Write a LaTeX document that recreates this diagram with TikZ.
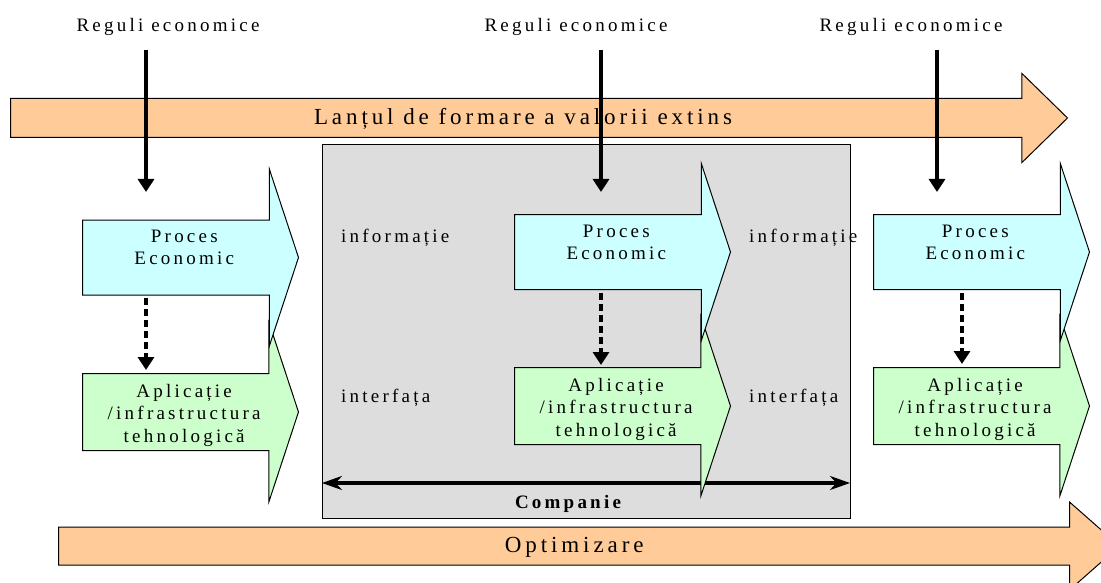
\documentclass[tikz,border=0pt]{standalone}
\usepackage{fontspec}
\setmainfont{Liberation Serif}
\newfontfamily\spc[LetterSpace=17]{Liberation Serif}
\usepackage{xcolor}
\usetikzlibrary{shapes.arrows,arrows.meta}
\definecolor{chainorange}{HTML}{FFCC99}
\definecolor{proccyan}{HTML}{CCFFFF}
\definecolor{appgreen}{HTML}{CCFFCC}
\definecolor{compgray}{HTML}{DDDDDD}

\begin{document}
\begin{tikzpicture}[x=1pt,y=-1pt,
    bigarrow/.style={shape=single arrow, draw, line width=1pt, fill=chainorange,
      minimum width=88pt, single arrow head extend=25pt, inner sep=0pt,
      text height=26pt, text depth=12pt,
      font=\spc\fontsize{23}{27}\selectfont},
    chev/.style={shape=single arrow, draw, line width=1pt, minimum width=176pt,
      minimum height=216pt, single arrow head extend=51pt,
      single arrow tip angle=143.5, inner sep=0pt, align=center},
    proc/.style={chev, fill=proccyan, text height=44pt, text depth=30pt,
      font=\spc\fontsize{19}{22}\selectfont},
    app/.style={chev, fill=appgreen, text height=68pt, text depth=8pt,
      font=\spc\fontsize{19}{22.5}\selectfont},
    txt/.style={font=\spc\fontsize{19}{22}\selectfont, inner sep=0pt},
    rule/.style={line width=3.4pt, -{Triangle[length=13pt,width=16pt]}},
    link/.style={line width=3.4pt, dash pattern=on 7pt off 4pt, -{Triangle[length=13pt,width=16pt]}}]
    \useasboundingbox[fill=white] (0,0) rectangle (1101,583);

    % value chain and optimisation
    \node[bigarrow, minimum height=1057pt, single arrow tip angle=88.7, anchor=tail] (chain) at (10,118) {\hspace*{-12pt}Lanțul de formare a valorii extins};
    \node[bigarrow, minimum height=1061pt, single arrow tip angle=82.7, anchor=tail, text height=25pt] (optim) at (58,546) {\hspace*{-8pt}Optimizare};

    % company
    \draw[line width=1pt, fill=compgray] (322,145) rectangle (850,518);
    \node[txt, anchor=base west] (info1) at (341,242) {informație};
    \node[txt, anchor=base west] (intf1) at (341,402) {interfața};
    \node[txt, anchor=base west] (info2) at (749,242) {informație};
    \node[txt, anchor=base west] (intf2) at (749,402) {interfața};
    \coordinate (cw) at (322,483);
    \coordinate (ce) at (850,483);
    \draw[line width=3.4pt, {Stealth[length=20pt,width=14pt]}-{Stealth[length=20pt,width=14pt]}] (cw) -- (ce);
    \node[txt, font=\spc\bfseries\fontsize{19}{22}\selectfont, anchor=base] (comp) at (568,508) {Companie};

    % processes and applications
    \node[app, anchor=tail] (app1) at (82,412) {Aplicație\\/infrastructura\\tehnologică};
    \node[proc, anchor=tail] (proc1) at (82,257.5) {Proces\\Economic};
    \node[app, anchor=tail] (app2) at (514,406) {Aplicație\\/infrastructura\\tehnologică};
    \node[proc, anchor=tail] (proc2) at (514,252) {Proces\\Economic};
    \node[app, anchor=tail] (app3) at (873,406) {Aplicație\\/infrastructura\\tehnologică};
    \node[proc, anchor=tail] (proc3) at (873,252) {Proces\\Economic};

    % economic rules
    \node[txt, anchor=base] (rule1) at (168,32) {Reguli economice};
    \node[txt, anchor=base] (rule2) at (576,32) {Reguli economice};
    \node[txt, anchor=base] (rule3) at (911,32) {Reguli economice};
    \coordinate (r1a) at (146,50);  \coordinate (r1b) at (146,192);
    \coordinate (r2a) at (601,50);  \coordinate (r2b) at (601,192);
    \coordinate (r3a) at (937,50);  \coordinate (r3b) at (937,192);
    \draw[rule] (r1a) -- (r1b);
    \draw[rule] (r2a) -- (r2b);
    \draw[rule] (r3a) -- (r3b);

    % process -> application
    \coordinate (l1a) at (146,298); \coordinate (l1b) at (146,370);
    \coordinate (l2a) at (601,293); \coordinate (l2b) at (601,365);
    \coordinate (l3a) at (962,293); \coordinate (l3b) at (962,364);
    \draw[link] (l1a) -- (l1b);
    \draw[link] (l2a) -- (l2b);
    \draw[link] (l3a) -- (l3b);
\end{tikzpicture}
\end{document}
